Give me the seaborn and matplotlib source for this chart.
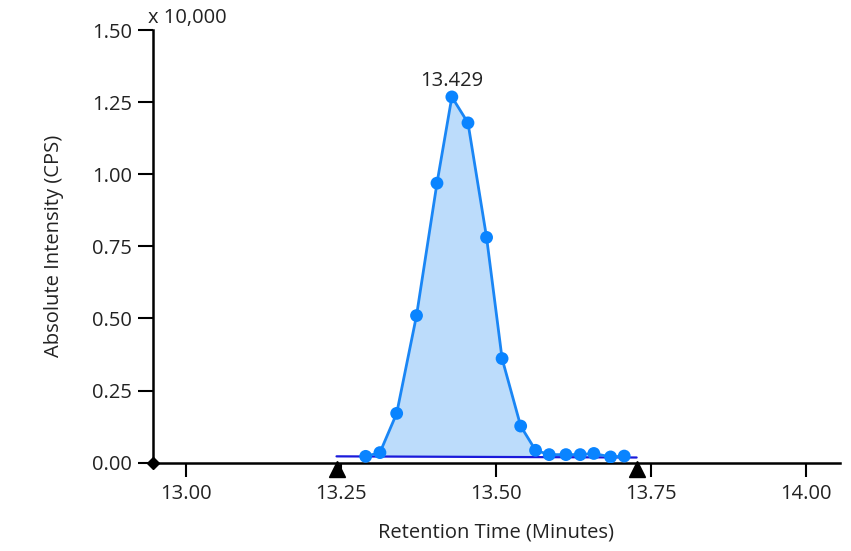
import numpy as np
import pandas as pd
import matplotlib
matplotlib.use("Agg")
import matplotlib.pyplot as plt
import matplotlib.transforms as mtransforms
import seaborn as sns

# Chromatogram data points (retention time in minutes, intensity in units of 10,000 CPS)
retention_time = [13.290, 13.313, 13.340, 13.372, 13.405, 13.429, 13.455, 13.485, 13.510,
                  13.540, 13.564, 13.586, 13.613, 13.636, 13.658, 13.685, 13.707]
intensity = [0.022, 0.035, 0.171, 0.510, 0.969, 1.268, 1.178, 0.781, 0.361,
             0.127, 0.043, 0.028, 0.028, 0.028, 0.032, 0.020, 0.023]

# Integration boundaries and baseline
peak_bounds = [13.243, 13.727]
baseline_levels = [0.022, 0.018]
apex_label = "13.429"
apex_rt = 13.429
x_ticks = [13.00, 13.25, 13.50, 13.75, 14.00]
y_ticks = [0.00, 0.25, 0.50, 0.75, 1.00, 1.25, 1.50]
x_limits = [12.947, 14.055]
y_limits = [0.0, 1.5]

sns.set_style("ticks")
plt.rcParams["font.family"] = ["Open Sans", "DejaVu Sans"]
text_color = "#222222"
fs = 14.5

df = pd.DataFrame({"rt": retention_time, "intensity": intensity})

fig = plt.figure(figsize=(8.51, 5.51), dpi=100)
ax = fig.add_axes([153 / 851, 1 - 462.7 / 551, (840 - 153) / 851, (462.7 - 30) / 551])

line_blue = "#1a86f5"
point_blue = "#0a84ff"
fill_blue = "#bcdcfb"

# Shaded integrated area between the curve and the baseline
fill_rt = np.array(retention_time[1:11])
fill_int = np.array(intensity[1:11])
fill_base = np.interp(fill_rt, peak_bounds, baseline_levels)
ax.fill_between(fill_rt, fill_base, fill_int, color=fill_blue, linewidth=0, zorder=1)

# Baseline
ax.plot(peak_bounds, baseline_levels, color="#1a1adb", linewidth=1.6, zorder=2)

# Trace and data points
sns.lineplot(data=df, x="rt", y="intensity", ax=ax, color=line_blue, linewidth=2.0,
             zorder=3, sort=True)
sns.scatterplot(data=df, x="rt", y="intensity", ax=ax, color=point_blue, s=85,
                edgecolor="none", zorder=4)

# Peak start / end markers and the axis origin marker
shift_down = mtransforms.ScaledTranslation(0, -6.5 / 100, fig.dpi_scale_trans)
ax.plot(peak_bounds, [0, 0], linestyle="none", marker="^", markersize=11,
        color="black", clip_on=False, zorder=6, transform=ax.transData + shift_down)
ax.plot([x_limits[0]], [0], linestyle="none", marker="D", markersize=6.5,
        color="black", clip_on=False, zorder=6)

# Apex retention time label
apex_idx = retention_time.index(apex_rt)
ax.annotate(apex_label, (apex_rt, intensity[apex_idx]), xytext=(0, 4),
            textcoords="offset points", ha="center", va="bottom",
            fontsize=fs, color=text_color)

ax.set_xlim(x_limits)
ax.set_ylim(y_limits)
ax.set_xticks(x_ticks)
ax.set_xticklabels([f"{v:.2f}" for v in x_ticks])
ax.set_yticks(y_ticks)
ax.set_yticklabels([f"{v:.2f}" for v in y_ticks])

for side in ("top", "right"):
    ax.spines[side].set_visible(False)
for side in ("left", "bottom"):
    ax.spines[side].set_color("black")
    ax.spines[side].set_linewidth(1.8)

ax.tick_params(axis="x", direction="out", length=10, width=1.5, color="black",
               labelsize=fs, labelcolor=text_color, pad=5)
ax.tick_params(axis="y", direction="out", length=11, width=1.5, color="black",
               labelsize=fs, labelcolor=text_color, pad=4)

ax.set_xlabel("Retention Time (Minutes)", fontsize=fs, color=text_color, labelpad=14)
ax.set_ylabel("Absolute Intensity (CPS)", fontsize=fs, color=text_color, labelpad=20)

ax.text(-0.008, 1.005, "x 10,000", transform=ax.transAxes, ha="left", va="bottom",
        fontsize=fs, color=text_color)

fig.savefig("out.png", dpi=100)
